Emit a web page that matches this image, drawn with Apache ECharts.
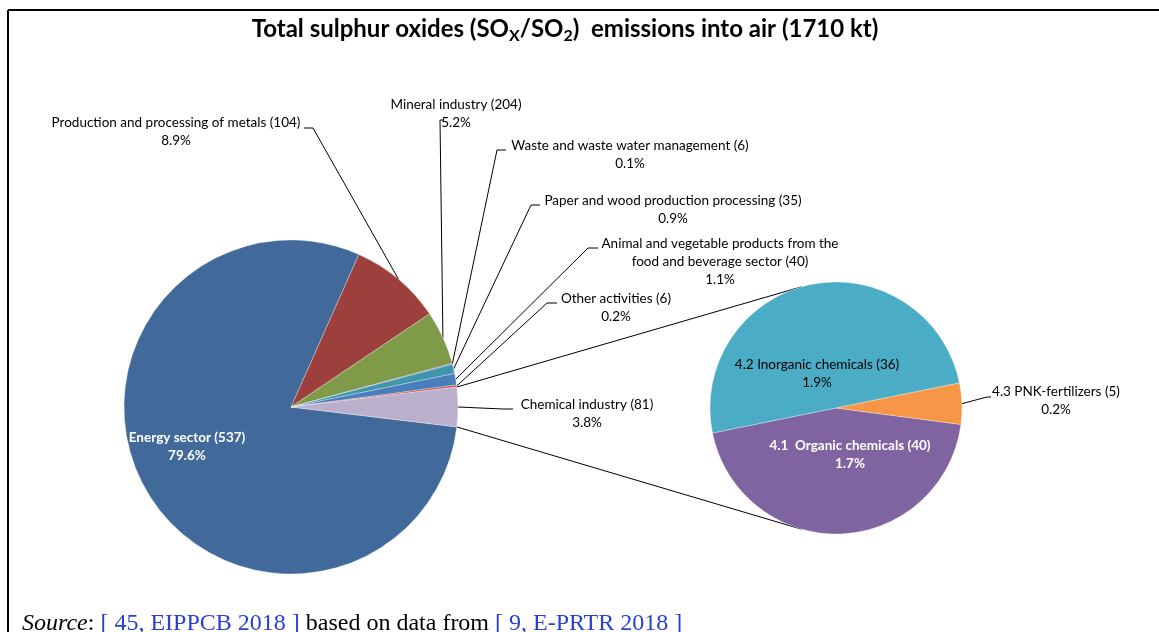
<!DOCTYPE html>
<html>
<head>
<meta charset="utf-8">
<title>Total sulphur oxides emissions into air</title>
<script src="https://cdn.jsdelivr.net/npm/echarts@6.0.0/dist/echarts.min.js"></script>
<style>
  html, body { margin: 0; padding: 0; background: #fff; }
  #mycharts { width: 1159px; height: 632px; }
</style>
</head>
<body>
<div id="mycharts"></div>
<script>
// main pie: sectors, emissions in kt, share of total in %
var sectors = [
  "Energy sector",
  "Production and processing of metals",
  "Mineral industry",
  "Waste and waste water management",
  "Paper and wood production processing",
  "Animal and vegetable products from the\nfood and beverage sector",
  "Other activities",
  "Chemical industry"
];
var sectorKt = [537, 104, 204, 6, 35, 40, 6, 81];
var sectorPct = [79.6, 8.9, 5.2, 0.1, 0.9, 1.1, 0.2, 3.8];

// second pie: breakdown of the chemical industry
var chemNames = ["4.1  Organic chemicals", "4.2 Inorganic chemicals", "4.3 PNK-fertilizers"];
var chemKt = [40, 36, 5];
var chemPct = [1.7, 1.9, 0.2];

var sectorColors = ["#41699a", "#9d403d", "#7f9a48", "#7a64a0", "#3f97ae", "#4a7ebb", "#c9504a", "#bab0cc"];
var chemColors = ["#8064a2", "#4bacc6", "#f79646"];

var FONT = "Lato, 'Open Sans', sans-serif";
var mainCenter = [291, 407], mainR = 167;
var subCenter = [836, 408], subR = 126;
var subStart = 352.5;

var mainTotal = sectorPct.reduce(function (a, b) { return a + b; }, 0);
var subTotal = chemPct.reduce(function (a, b) { return a + b; }, 0);
// chemical slice centred on the right side
var mainStart = 360 - (sectorPct[7] / 2 / mainTotal) * 360;

// label positions (centre of text block) and leader hooks
var mainLabelPos = [
  { x: 187, y: 447 },
  { x: 176, y: 132, hook: [[313, 128], [304, 128]] },
  { x: 456, y: 114, hook: [[440, 120], [444, 120]] },
  { x: 630, y: 155, hook: [[497, 150], [506, 150]] },
  { x: 673, y: 210, hook: [[531, 205], [540, 205]] },
  { x: 720, y: 262, hook: [[588, 248], [598, 248]] },
  { x: 616, y: 308, hook: [[547, 303], [557, 303]] },
  { x: 587, y: 414, hook: [[503, 409], [513, 409]] }
];
var subLabelPos = [
  { x: 850, y: 455 },
  { x: 817, y: 374 },
  { x: 1056, y: 401, hook: [[987, 397], [991, 397]] }
];

function midAngle(values, total, start, i) {
  var before = 0;
  for (var k = 0; k < i; k++) before += values[k];
  return (start - (before + values[i] / 2) / total * 360) * Math.PI / 180;
}
function edgePoint(center, r, a) {
  return [center[0] + r * Math.cos(a), center[1] - r * Math.sin(a)];
}

var mainData = sectors.map(function (n, i) {
  var item = { name: n, value: sectorPct[i], itemStyle: { color: sectorColors[i] } };
  if (i === 0) {
    item.label = { color: "#fff", fontWeight: "bold" };
    item.labelLine = { show: false };
  }
  return item;
});
var subData = chemNames.map(function (n, i) {
  var item = { name: n, value: chemPct[i], itemStyle: { color: chemColors[i] } };
  if (i === 0) {
    item.label = { color: "#fff", fontWeight: "bold" };
  }
  if (i < 2) item.labelLine = { show: false };
  return item;
});

// connectors from the chemical slice to the second pie
var half = (sectorPct[7] / 2 / mainTotal) * 360;
var pA = edgePoint(mainCenter, mainR, half * Math.PI / 180);
var pB = edgePoint(mainCenter, mainR, -half * Math.PI / 180);
var qA = edgePoint(subCenter, subR, 106 * Math.PI / 180);
var qB = edgePoint(subCenter, subR, 254 * Math.PI / 180);

var myCharts = echarts.init(document.getElementById("mycharts"));

let option = {
  animation: false,
  textStyle: { fontFamily: FONT },
  graphic: [
    { type: "line", shape: { x1: 8, y1: 10, x2: 1159, y2: 10 }, style: { stroke: "#000", lineWidth: 2 } },
    { type: "line", shape: { x1: 8, y1: 10, x2: 8, y2: 632 }, style: { stroke: "#000", lineWidth: 2 } },
    { type: "line", z: 1, shape: { x1: pA[0], y1: pA[1], x2: qA[0], y2: qA[1] }, style: { stroke: "#000", lineWidth: 1 } },
    { type: "line", z: 1, shape: { x1: pB[0], y1: pB[1], x2: qB[0], y2: qB[1] }, style: { stroke: "#000", lineWidth: 1 } },
    {
      type: "text",
      x: 565,
      y: 29,
      style: {
        text: "{t|Total sulphur oxides (SO}{s|X}{t|/SO}{s|2}{t|)  emissions into air (1710 kt)}",
        align: "center",
        verticalAlign: "middle",
        rich: {
          t: { fontFamily: FONT, fontSize: 24, fontWeight: "bold", lineHeight: 30, fill: "#000" },
          s: { fontFamily: FONT, fontSize: 16, fontWeight: "bold", lineHeight: 14, verticalAlign: "bottom", fill: "#000" }
        }
      }
    },
    {
      type: "text",
      x: 22,
      y: 624,
      style: {
        text: "{i|Source}{n|: }{a|[ 45, EIPPCB 2018 ]}{n| based on data from }{a|[ 9, E-PRTR 2018 ]}",
        align: "left",
        verticalAlign: "middle",
        rich: {
          i: { fontFamily: "'Liberation Serif', serif", fontSize: 24, fontStyle: "italic", fill: "#000" },
          n: { fontFamily: "'Liberation Serif', serif", fontSize: 24, fill: "#000" },
          a: { fontFamily: "'Liberation Serif', serif", fontSize: 24, fill: "#2a3fcf" }
        }
      }
    }
  ],
  series: [
    {
      name: "Sectors",
      type: "pie",
      center: mainCenter,
      radius: mainR,
      startAngle: mainStart,
      clockwise: true,
      avoidLabelOverlap: false,
      itemStyle: { borderColor: "rgba(255,255,255,0.6)", borderWidth: 0.5 },
      label: {
        show: true,
        position: "outside",
        fontFamily: FONT,
        fontSize: 13.5,
        lineHeight: 18,
        color: "#000",
        align: "center",
        formatter: function (p) {
          return sectors[p.dataIndex] + " (" + sectorKt[p.dataIndex] + ")\n" + sectorPct[p.dataIndex] + "%";
        }
      },
      labelLine: { show: true, lineStyle: { color: "#000", width: 1 } },
      labelLayout: function (params) {
        var i = params.dataIndex;
        var pos = mainLabelPos[i];
        var res = { x: pos.x, y: pos.y, align: "center", verticalAlign: "middle" };
        if (pos.hook) {
          var e = edgePoint(mainCenter, mainR, midAngle(sectorPct, mainTotal, mainStart, i));
          res.labelLinePoints = [e, pos.hook[0], pos.hook[1]];
        }
        return res;
      },
      emphasis: { disabled: true },
      data: mainData
    },
    {
      name: "Chemical industry",
      type: "pie",
      center: subCenter,
      radius: subR,
      startAngle: subStart,
      clockwise: true,
      avoidLabelOverlap: false,
      itemStyle: { borderColor: "rgba(255,255,255,0.6)", borderWidth: 0.5 },
      label: {
        show: true,
        position: "outside",
        fontFamily: FONT,
        fontSize: 13.5,
        lineHeight: 18,
        color: "#000",
        align: "center",
        formatter: function (p) {
          return chemNames[p.dataIndex] + " (" + chemKt[p.dataIndex] + ")\n" + chemPct[p.dataIndex] + "%";
        }
      },
      labelLine: { show: true, lineStyle: { color: "#000", width: 1 } },
      labelLayout: function (params) {
        var i = params.dataIndex;
        var pos = subLabelPos[i];
        var res = { x: pos.x, y: pos.y, align: "center", verticalAlign: "middle" };
        if (pos.hook) {
          var e = edgePoint(subCenter, subR, midAngle(chemPct, subTotal, subStart, i));
          res.labelLinePoints = [e, pos.hook[0], pos.hook[1]];
        }
        return res;
      },
      emphasis: { disabled: true },
      data: subData
    }
  ]
};

myCharts.setOption(option);
</script>
</body>
</html>
